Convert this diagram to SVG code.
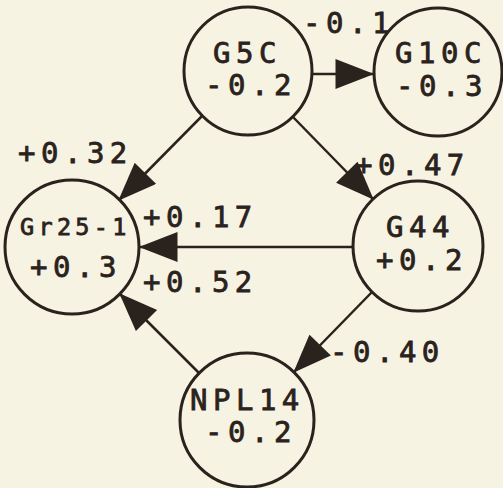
<svg xmlns="http://www.w3.org/2000/svg" width="503" height="488" viewBox="0 0 503 488">
<style>
.bg{fill:#f7f3e3}
.node{fill:none;stroke:#2a221c;stroke-width:3}
.edge{fill:none;stroke:#2a221c;stroke-width:2.5;marker-end:url(#ah)}
text{font-family:"DejaVu Sans Mono","Liberation Mono",monospace;font-size:29px;letter-spacing:5.5px;fill:#2a221c;stroke:#2a221c;stroke-width:0.8px}
.small{font-size:23.5px;letter-spacing:4.3px}
</style>
<defs>
<marker id="ah" markerUnits="userSpaceOnUse" markerWidth="40" markerHeight="30" viewBox="0 0 36 28" refX="35" refY="14" orient="auto">
<path d="M0,0 L36,14 L0,28 Z" fill="#2a221c"/>
</marker>
</defs>
<rect class="bg" x="0" y="0" width="503" height="488"/>
<g id="connectors">
<line class="edge" x1="313" y1="74" x2="373" y2="74"/>
<line class="edge" x1="203" y1="115" x2="119" y2="200"/>
<line class="edge" x1="292" y1="116" x2="373" y2="199"/>
<line class="edge" x1="353" y1="247" x2="140" y2="247"/>
<line class="edge" x1="372" y1="292" x2="294" y2="372"/>
<line class="edge" x1="199" y1="373" x2="120" y2="294"/>
</g>
<g id="edge-labels">
<text x="303" y="33">-0.1</text>
<text x="18" y="163">+0.32</text>
<text x="143" y="227">+0.17</text>
<text x="143" y="292">+0.52</text>
<text x="355" y="175">+0.47</text>
<text x="330" y="362">-0.40</text>
</g>
<g id="G5C">
<circle class="node" cx="248" cy="71" r="64"/>
<text x="213" y="63">G5C</text>
<text x="205" y="95">-0.2</text>
</g>
<g id="G10C">
<circle class="node" cx="438" cy="72" r="64"/>
<text x="395" y="63">G10C</text>
<text x="396" y="96">-0.3</text>
</g>
<g id="Gr25-1">
<circle class="node" cx="72" cy="247" r="67"/>
<text class="small" x="20" y="235">Gr25-1</text>
<text x="30" y="277">+0.3</text>
</g>
<g id="G44">
<circle class="node" cx="418" cy="246" r="65"/>
<text x="386" y="237">G44</text>
<text x="376" y="270">+0.2</text>
</g>
<g id="NPL14">
<circle class="node" cx="247" cy="420" r="67"/>
<text x="190" y="410">NPL14</text>
<text x="205" y="442">-0.2</text>
</g>
</svg>
